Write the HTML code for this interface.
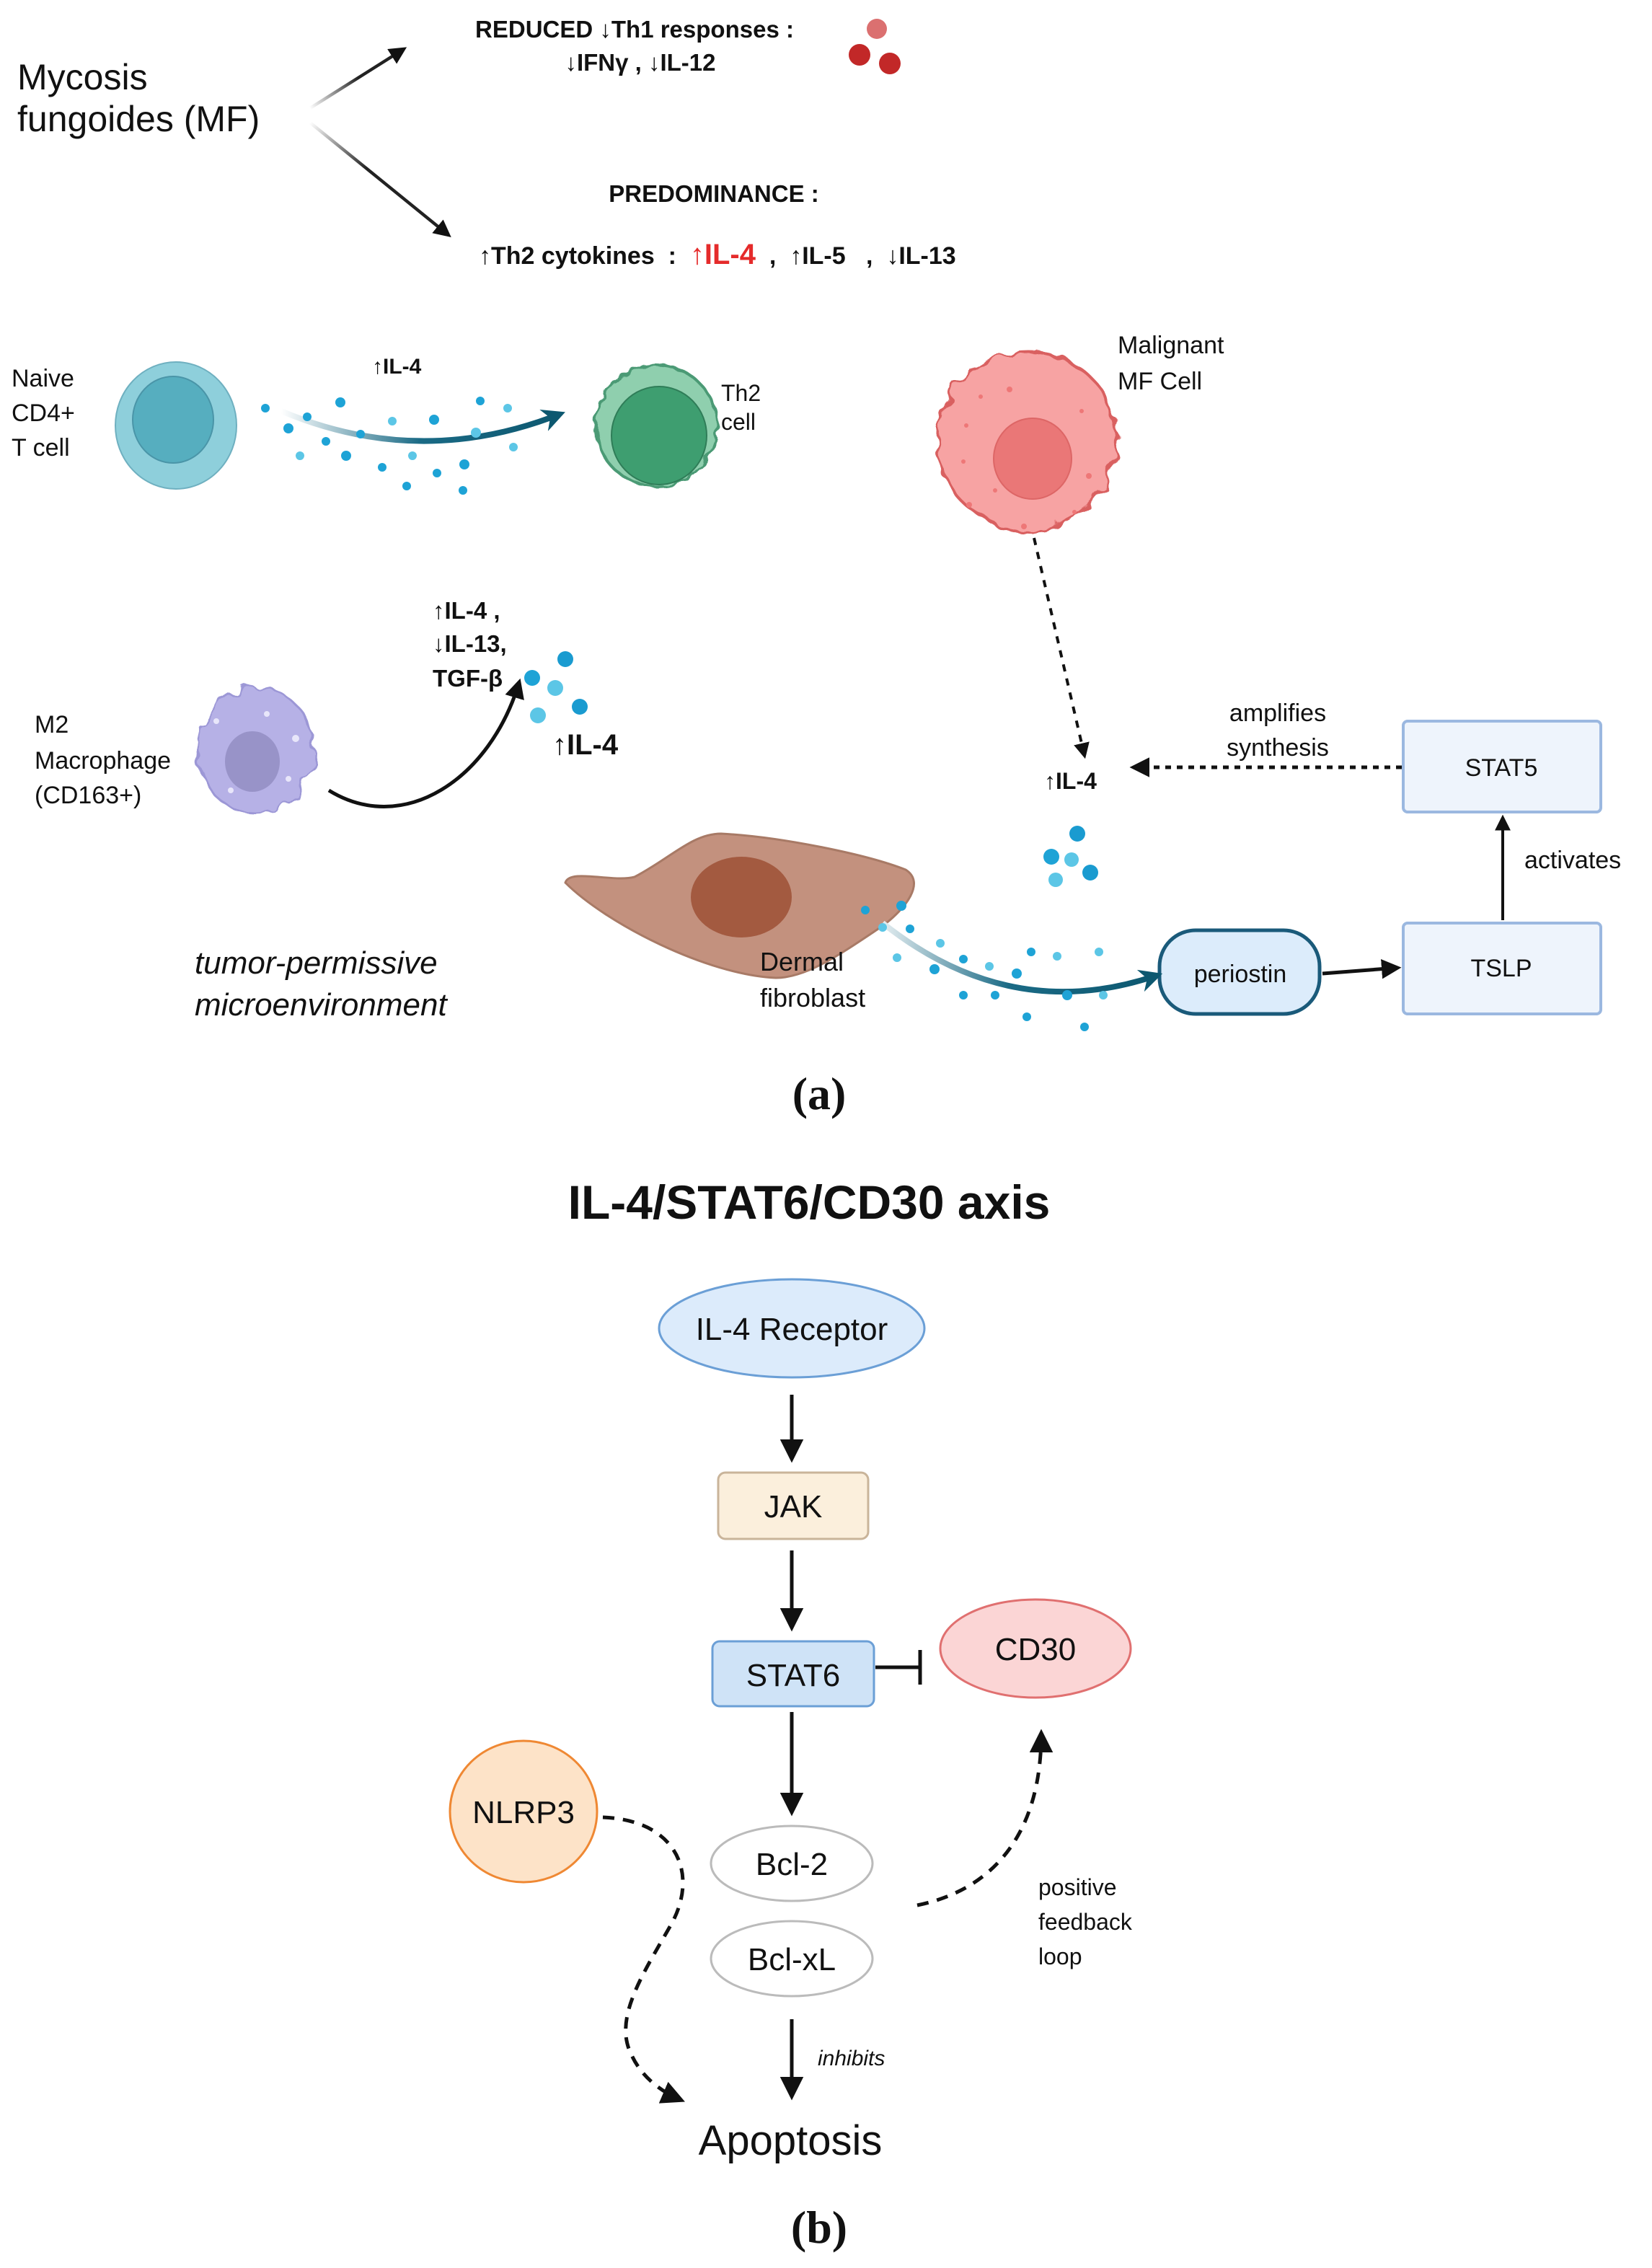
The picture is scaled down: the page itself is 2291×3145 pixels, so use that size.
<!DOCTYPE html>
<html><head><meta charset="utf-8"><style>
html,body{margin:0;padding:0;background:#fff}
svg{display:block}
text{font-family:"Liberation Sans",sans-serif;fill:#111}
</style></head><body>
<svg width="2291" height="3145" viewBox="0 0 1145.5 1572.5" xmlns="http://www.w3.org/2000/svg">
<defs>
<marker id="ah" viewBox="0 0 10 10" refX="8" refY="5" markerWidth="5.5" markerHeight="5.5" orient="auto"><path d="M0,0 L10,5 L0,10 z" fill="#111"/></marker>
<marker id="ahs" viewBox="0 0 10 10" refX="8" refY="5" markerWidth="6.5" markerHeight="6.5" orient="auto"><path d="M0,0 L10,5 L0,10 z" fill="#111"/></marker>
<marker id="aht" viewBox="0 0 10 10" refX="6" refY="5" markerWidth="4" markerHeight="4" orient="auto"><path d="M0,0 L10,5 L0,10 L3,5 z" fill="#0d5870"/></marker>
<linearGradient id="g1" x1="215" y1="75" x2="282" y2="33" gradientUnits="userSpaceOnUse"><stop offset="0" stop-color="#fff"/><stop offset="0.5" stop-color="#222"/></linearGradient>
<linearGradient id="g2" x1="215" y1="85" x2="313" y2="165" gradientUnits="userSpaceOnUse"><stop offset="0" stop-color="#fff"/><stop offset="0.4" stop-color="#222"/></linearGradient>
<linearGradient id="gt1" x1="195" y1="0" x2="388" y2="0" gradientUnits="userSpaceOnUse"><stop offset="0" stop-color="#fff"/><stop offset="0.5" stop-color="#1a6a85"/><stop offset="1" stop-color="#0d5870"/></linearGradient>
<linearGradient id="gt2" x1="600" y1="0" x2="800" y2="0" gradientUnits="userSpaceOnUse"><stop offset="0" stop-color="#fff"/><stop offset="0.5" stop-color="#1a6a85"/><stop offset="1" stop-color="#0d5870"/></linearGradient>
<filter id="wob" x="-20%" y="-20%" width="140%" height="140%"><feTurbulence type="fractalNoise" baseFrequency="0.08" numOctaves="2" seed="3"/><feDisplacementMap in="SourceGraphic" scale="12"/></filter>
<filter id="wob2" x="-20%" y="-20%" width="140%" height="140%"><feTurbulence type="fractalNoise" baseFrequency="0.15" numOctaves="1" seed="5"/><feDisplacementMap in="SourceGraphic" scale="6"/></filter>
</defs>

<text x="12" y="62" font-size="25">Mycosis</text>
<text x="12" y="91" font-size="25">fungoides (MF)</text>
<line x1="215" y1="75" x2="280" y2="34" stroke="url(#g1)" stroke-width="2.2" marker-end="url(#ah)"/>
<line x1="215" y1="85" x2="311" y2="163" stroke="url(#g2)" stroke-width="2.2" marker-end="url(#ah)"/>
<text x="440" y="26" font-size="16.5" font-weight="bold" text-anchor="middle">REDUCED ↓Th1 responses :</text>
<text x="444" y="49" font-size="16.5" font-weight="bold" text-anchor="middle">↓IFNγ , ↓IL-12</text>
<circle cx="608" cy="20" r="7" fill="#db7070"/>
<circle cx="596" cy="38" r="7.5" fill="#c22828"/>
<circle cx="617" cy="44" r="7.5" fill="#c22828"/>
<text x="495" y="140" font-size="16.5" font-weight="bold" text-anchor="middle">PREDOMINANCE :</text>
<text x="332" y="183" font-size="17" font-weight="bold" xml:space="preserve">↑Th2 cytokines  :  <tspan fill="#e52b2b" font-size="20">↑IL-4</tspan>  ,  ↑IL-5   ,  ↓IL-13</text>

<text x="8" y="268" font-size="17">Naive</text>
<text x="8" y="292" font-size="17">CD4+</text>
<text x="8" y="316" font-size="17">T cell</text>
<ellipse cx="122" cy="295" rx="42" ry="44" fill="#8ecfdb" stroke="#6fb0c0"/>
<ellipse cx="120" cy="291" rx="28" ry="30" fill="#56aebf" stroke="#4a95a8"/>
<text x="258" y="259" font-size="15" font-weight="bold">↑IL-4</text>
<path d="M195,285 Q290,325 386,288" fill="none" stroke="url(#gt1)" stroke-width="4" marker-end="url(#aht)"/>
<g fill="#1ea3d6">
<circle cx="184" cy="283" r="3"/><circle cx="200" cy="297" r="3.5"/><circle cx="213" cy="289" r="3"/><circle cx="236" cy="279" r="3.5"/><circle cx="226" cy="306" r="3"/><circle cx="240" cy="316" r="3.5"/><circle cx="250" cy="301" r="3"/><circle cx="272" cy="292" r="3" fill="#5cc6e6"/><circle cx="301" cy="291" r="3.5"/><circle cx="333" cy="278" r="3"/><circle cx="352" cy="283" r="3" fill="#5cc6e6"/><circle cx="330" cy="300" r="3.5" fill="#5cc6e6"/><circle cx="356" cy="310" r="3" fill="#5cc6e6"/><circle cx="265" cy="324" r="3"/><circle cx="286" cy="316" r="3" fill="#5cc6e6"/><circle cx="303" cy="328" r="3"/><circle cx="322" cy="322" r="3.5"/><circle cx="282" cy="337" r="3"/><circle cx="321" cy="340" r="3"/><circle cx="208" cy="316" r="3" fill="#5cc6e6"/>
</g>
<circle cx="455" cy="295" r="42" fill="#8fcfae" stroke="#4b9a74" stroke-width="2" filter="url(#wob2)"/>
<ellipse cx="457" cy="302" rx="33" ry="34" fill="#3e9e70" stroke="#2f7d58"/>
<text x="500" y="278" font-size="16">Th2</text>
<text x="500" y="298" font-size="16">cell</text>

<circle cx="712" cy="305" r="62" fill="#f7a3a3" stroke="#d96060" stroke-width="2" filter="url(#wob)"/>
<ellipse cx="716" cy="318" rx="27" ry="28" fill="#ea7777" stroke="#d66"/>
<g fill="#e77">
<circle cx="680" cy="275" r="1.5"/><circle cx="700" cy="270" r="2"/><circle cx="670" cy="295" r="1.5"/><circle cx="750" cy="285" r="1.5"/><circle cx="668" cy="320" r="1.5"/><circle cx="755" cy="330" r="2"/><circle cx="690" cy="340" r="1.5"/><circle cx="745" cy="355" r="1.5"/><circle cx="710" cy="365" r="2"/><circle cx="672" cy="350" r="2"/>
</g>
<text x="775" y="245" font-size="17">Malignant</text>
<text x="775" y="270" font-size="17">MF Cell</text>
<line x1="717" y1="373" x2="752" y2="524" stroke="#111" stroke-width="2" stroke-dasharray="5,5" marker-end="url(#ah)"/>
<text x="724" y="547" font-size="16" font-weight="bold">↑IL-4</text>

<line x1="972" y1="532" x2="786" y2="532" stroke="#111" stroke-width="2.5" stroke-dasharray="4,4" marker-end="url(#ah)"/>
<text x="886" y="500" font-size="17" text-anchor="middle">amplifies</text>
<text x="886" y="524" font-size="17" text-anchor="middle">synthesis</text>
<rect x="973" y="500" width="137" height="63" rx="3" fill="#eef4fc" stroke="#9bb8e0" stroke-width="2"/>
<text x="1041" y="538" font-size="17" text-anchor="middle">STAT5</text>
<line x1="1042" y1="638" x2="1042" y2="567" stroke="#111" stroke-width="2" marker-end="url(#ah)"/>
<text x="1057" y="602" font-size="17">activates</text>
<rect x="973" y="640" width="137" height="63" rx="3" fill="#eef4fc" stroke="#9bb8e0" stroke-width="2"/>
<text x="1041" y="677" font-size="17" text-anchor="middle">TSLP</text>
<rect x="804" y="645" width="111" height="58" rx="25" fill="#dcecfb" stroke="#1a5a7a" stroke-width="2.5"/>
<text x="860" y="681" font-size="17" text-anchor="middle">periostin</text>
<line x1="917" y1="675" x2="969" y2="671" stroke="#111" stroke-width="2.5" marker-end="url(#ah)"/>

<path d="M392,612 C395,602 425,612 440,608 C465,595 480,578 500,578 C540,580 600,592 628,603 C642,612 628,630 612,642 C585,660 560,678 538,678 C490,676 420,640 392,612 Z" fill="#c3917e" stroke="#a87a66" stroke-width="1.5"/>
<ellipse cx="514" cy="622" rx="35" ry="28" fill="#a35a40"/>
<path d="M612,640 Q700,710 800,677" fill="none" stroke="url(#gt2)" stroke-width="4" marker-end="url(#aht)"/>
<g fill="#1ea3d6">
<circle cx="600" cy="631" r="3"/><circle cx="612" cy="643" r="3" fill="#5cc6e6"/><circle cx="631" cy="644" r="3"/><circle cx="652" cy="654" r="3" fill="#5cc6e6"/><circle cx="648" cy="672" r="3.5"/><circle cx="668" cy="665" r="3"/><circle cx="686" cy="670" r="3" fill="#5cc6e6"/><circle cx="705" cy="675" r="3.5"/><circle cx="690" cy="690" r="3"/><circle cx="715" cy="660" r="3"/><circle cx="733" cy="663" r="3" fill="#5cc6e6"/><circle cx="762" cy="660" r="3" fill="#5cc6e6"/><circle cx="740" cy="690" r="3.5"/><circle cx="712" cy="705" r="3"/><circle cx="752" cy="712" r="3"/><circle cx="765" cy="690" r="3" fill="#5cc6e6"/><circle cx="668" cy="690" r="3"/><circle cx="622" cy="664" r="3" fill="#5cc6e6"/><circle cx="625" cy="628" r="3.5"/>
</g>
<circle cx="747" cy="578" r="5.5" fill="#1a9bd0"/><circle cx="729" cy="594" r="5.5" fill="#1ea3d6"/><circle cx="743" cy="596" r="5" fill="#5cc6e6"/><circle cx="756" cy="605" r="5.5" fill="#1a9bd0"/><circle cx="732" cy="610" r="5" fill="#5cc6e6"/>
<text x="527" y="673" font-size="18">Dermal</text>
<text x="527" y="698" font-size="18">fibroblast</text>
<text x="135" y="675" font-size="22" font-style="italic">tumor-permissive</text>
<text x="135" y="704" font-size="22" font-style="italic">microenvironment</text>

<text x="24" y="508" font-size="17">M2</text>
<text x="24" y="533" font-size="17">Macrophage</text>
<text x="24" y="557" font-size="17">(CD163+)</text>
<ellipse cx="177" cy="520" rx="40" ry="44" fill="#b6b1e6" stroke="#9c97d6" stroke-width="1.5" filter="url(#wob)"/>
<ellipse cx="175" cy="528" rx="19" ry="21" fill="#9893c8"/>
<g fill="#e8e6fa"><circle cx="150" cy="500" r="2"/><circle cx="205" cy="512" r="2.5"/><circle cx="160" cy="548" r="2"/><circle cx="200" cy="540" r="2"/><circle cx="185" cy="495" r="2"/></g>
<path d="M228,548 C280,580 340,540 360,473" fill="none" stroke="#111" stroke-width="2.5" marker-end="url(#ah)"/>
<text x="300" y="429" font-size="16.5" font-weight="bold">↑IL-4 ,</text>
<text x="300" y="452" font-size="16.5" font-weight="bold">↓IL-13,</text>
<text x="300" y="476" font-size="16.5" font-weight="bold">TGF-β</text>
<circle cx="392" cy="457" r="5.5" fill="#1a9bd0"/><circle cx="369" cy="470" r="5.5" fill="#1ea3d6"/><circle cx="385" cy="477" r="5.5" fill="#5cc6e6"/><circle cx="402" cy="490" r="5.5" fill="#1a9bd0"/><circle cx="373" cy="496" r="5.5" fill="#5cc6e6"/>
<text x="383" y="523" font-size="20" font-weight="bold">↑IL-4</text>

<text x="568" y="769" font-size="32" font-weight="bold" text-anchor="middle" style="font-family:'Liberation Serif',serif">(a)</text>

<text x="561" y="845" font-size="33" font-weight="bold" text-anchor="middle">IL-4/STAT6/CD30 axis</text>
<ellipse cx="549" cy="921" rx="92" ry="34" fill="#dcebfb" stroke="#6b9fd6" stroke-width="1.5"/>
<text x="549" y="929" font-size="22" text-anchor="middle">IL-4 Receptor</text>
<line x1="549" y1="967" x2="549" y2="1011" stroke="#111" stroke-width="2.5" marker-end="url(#ahs)"/>
<rect x="498" y="1021" width="104" height="46" rx="5" fill="#fbefdc" stroke="#c9b49a" stroke-width="1.5"/>
<text x="550" y="1052" font-size="22" text-anchor="middle">JAK</text>
<line x1="549" y1="1075" x2="549" y2="1128" stroke="#111" stroke-width="2.5" marker-end="url(#ahs)"/>
<rect x="494" y="1138" width="112" height="45" rx="5" fill="#cfe3f7" stroke="#6b9fd6" stroke-width="1.5"/>
<text x="550" y="1169" font-size="22" text-anchor="middle">STAT6</text>
<line x1="607" y1="1156" x2="638" y2="1156" stroke="#111" stroke-width="2.5"/>
<line x1="638" y1="1144" x2="638" y2="1168" stroke="#111" stroke-width="2.5"/>
<ellipse cx="718" cy="1143" rx="66" ry="34" fill="#fbd5d5" stroke="#e07070" stroke-width="1.5"/>
<text x="718" y="1151" font-size="22" text-anchor="middle">CD30</text>
<line x1="549" y1="1187" x2="549" y2="1256" stroke="#111" stroke-width="2.5" marker-end="url(#ahs)"/>
<ellipse cx="363" cy="1256" rx="51" ry="49" fill="#fde3c8" stroke="#ef8833" stroke-width="1.5"/>
<text x="363" y="1264" font-size="22" text-anchor="middle">NLRP3</text>
<ellipse cx="549" cy="1292" rx="56" ry="26" fill="#fff" stroke="#bbb" stroke-width="1.5"/>
<text x="549" y="1300" font-size="22" text-anchor="middle">Bcl-2</text>
<ellipse cx="549" cy="1358" rx="56" ry="26" fill="#fff" stroke="#bbb" stroke-width="1.5"/>
<text x="549" y="1366" font-size="22" text-anchor="middle">Bcl-xL</text>
<path d="M636,1321 C690,1310 722,1270 722,1202" fill="none" stroke="#111" stroke-width="2.5" stroke-dasharray="8,6" marker-end="url(#ahs)"/>
<path d="M418,1260 C470,1262 485,1300 465,1335 C445,1370 425,1400 438,1425 C445,1440 458,1450 472,1456" fill="none" stroke="#111" stroke-width="2.5" stroke-dasharray="8,6" marker-end="url(#ahs)"/>
<text x="720" y="1314" font-size="16">positive</text>
<text x="720" y="1338" font-size="16">feedback</text>
<text x="720" y="1362" font-size="16">loop</text>
<line x1="549" y1="1400" x2="549" y2="1453" stroke="#111" stroke-width="2.5" marker-end="url(#ahs)"/>
<text x="567" y="1432" font-size="15" font-style="italic">inhibits</text>
<text x="548" y="1494" font-size="29" text-anchor="middle">Apoptosis</text>
<text x="568" y="1555" font-size="32" font-weight="bold" text-anchor="middle" style="font-family:'Liberation Serif',serif">(b)</text>
</svg>
</body></html>
